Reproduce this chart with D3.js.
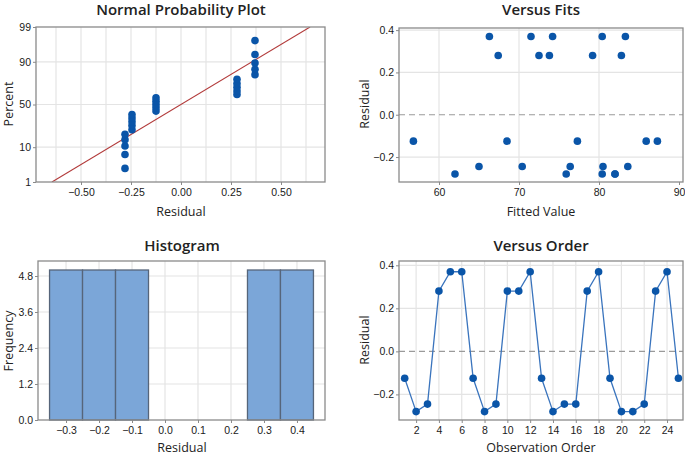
<!DOCTYPE html>
<html>
<head>
<meta charset="utf-8">
<script src="https://cdn.jsdelivr.net/npm/d3@7"></script>
<style>
  html, body { margin: 0; padding: 0; background: #fff; }
  svg { display: block; font-family: "Open Sans", "Noto Sans", sans-serif; }
  .title { font-size: 15px; font-weight: 600; fill: #222; }
  .axlab { font-size: 12.5px; fill: #222; }
  .tick text { font-size: 10.5px; fill: #1a1a1a; }
</style>
</head>
<body>
<svg id="chart" width="685" height="457"></svg>
<script>
// ---------- DATA ----------
const observationOrder = d3.range(1, 26);
const residualsByOrder = [
  -0.125, -0.28, -0.245, 0.28, 0.37, 0.37, -0.125, -0.28, -0.245, 0.28,
  0.28, 0.37, -0.125, -0.28, -0.245, -0.245, 0.28, 0.37, -0.125, -0.28,
  -0.28, -0.245, 0.28, 0.37, -0.125
];
const fittedValues = [
  56.8, 62.0, 65.0, 66.3, 67.4, 68.5, 70.4, 71.5, 72.5, 73.8,
  74.2, 75.9, 76.4, 77.3, 79.2, 80.4, 80.4, 80.5, 82.0, 82.0,
  82.8, 83.3, 83.6, 85.9, 87.3
];
const fittedResiduals = [
  -0.125, -0.28, -0.245, 0.37, 0.28, -0.125, -0.245, 0.37, 0.28, 0.28,
  0.37, -0.28, -0.245, -0.125, 0.28, -0.28, 0.37, -0.245, -0.28, -0.28,
  0.28, 0.37, -0.245, -0.125, -0.125
];
const histBinCenters = [-0.3, -0.2, -0.1, 0.0, 0.1, 0.2, 0.3, 0.4];
const histCounts     = [5, 5, 5, 0, 0, 0, 5, 5];
const nppPercentTicks = [1, 10, 50, 90, 99];
const nppXTicks = [-0.5, -0.25, 0, 0.25, 0.5];
const fitsXTicks = [60, 70, 80, 90];
const residTicks = [-0.2, 0.0, 0.2, 0.4];
const freqTicks = [0, 1.2, 2.4, 3.6, 4.8];
const orderTicks = [2, 4, 6, 8, 10, 12, 14, 16, 18, 20, 22, 24];

// ---------- helpers ----------
function normInv(p) {
  const a = [-3.969683028665376e+01, 2.209460984245205e+02, -2.759285104469687e+02, 1.383577518672690e+02, -3.066479806614716e+01, 2.506628277459239e+00];
  const b = [-5.447609879822406e+01, 1.615858368580409e+02, -1.556989798598866e+02, 6.680131188771972e+01, -1.328068155288572e+01];
  const c = [-7.784894002430293e-03, -3.223964580411365e-01, -2.400758277161838e+00, -2.549732539343734e+00, 4.374664141464968e+00, 2.938163982698783e+00];
  const d = [7.784695709041462e-03, 3.224671290700398e-01, 2.445134137142996e+00, 3.754408661907416e+00];
  const pl = 0.02425, ph = 1 - pl;
  let q, r;
  if (p < pl) { q = Math.sqrt(-2 * Math.log(p));
    return (((((c[0]*q+c[1])*q+c[2])*q+c[3])*q+c[4])*q+c[5]) / ((((d[0]*q+d[1])*q+d[2])*q+d[3])*q+1); }
  if (p <= ph) { q = p - 0.5; r = q*q;
    return (((((a[0]*r+a[1])*r+a[2])*r+a[3])*r+a[4])*r+a[5])*q / (((((b[0]*r+b[1])*r+b[2])*r+b[3])*r+b[4])*r+1); }
  q = Math.sqrt(-2 * Math.log(1 - p));
  return -(((((c[0]*q+c[1])*q+c[2])*q+c[3])*q+c[4])*q+c[5]) / ((((d[0]*q+d[1])*q+d[2])*q+d[3])*q+1);
}

const svg = d3.select("#chart");
const GRID = "#e4e4e4", FRAME = "#8a8a8a", DOT = "#0a55a8";

function frame(g, x0, y0, w, h) {
  g.append("rect").attr("x", x0).attr("y", y0).attr("width", w).attr("height", h)
    .attr("fill", "none").attr("stroke", FRAME).attr("stroke-width", 1.3);
}
function vgrid(g, xs, scale, y0, y1) {
  g.selectAll(null).data(xs).join("line")
    .attr("x1", d => scale(d)).attr("x2", d => scale(d)).attr("y1", y0).attr("y2", y1)
    .attr("stroke", GRID).attr("stroke-width", 1.2);
}
function hgrid(g, ys, scale, x0, x1) {
  g.selectAll(null).data(ys).join("line")
    .attr("y1", d => scale(d)).attr("y2", d => scale(d)).attr("x1", x0).attr("x2", x1)
    .attr("stroke", GRID).attr("stroke-width", 1.2);
}
function xAxis(g, scale, ticks, y, fmt) {
  const ax = g.append("g").attr("transform", `translate(0,${y})`)
    .call(d3.axisBottom(scale).tickValues(ticks).tickFormat(fmt).tickSize(3).tickPadding(4));
  ax.select(".domain").remove();
  ax.selectAll(".tick line").attr("stroke", FRAME);
}
function yAxis(g, scale, ticks, x, fmt) {
  const ax = g.append("g").attr("transform", `translate(${x},0)`)
    .call(d3.axisLeft(scale).tickValues(ticks).tickFormat(fmt).tickSize(3).tickPadding(2));
  ax.select(".domain").remove();
  ax.selectAll(".tick line").attr("stroke", FRAME);
}
function titles(g, cx, ty, title, xl, xly, ylx, yly, yl) {
  g.append("text").attr("class", "title").attr("x", cx).attr("y", ty).attr("text-anchor", "middle").text(title);
  g.append("text").attr("class", "axlab").attr("x", cx).attr("y", xly).attr("text-anchor", "middle").text(xl);
  g.append("text").attr("class", "axlab").attr("transform", `translate(${ylx},${yly}) rotate(-90)`)
    .attr("text-anchor", "middle").text(yl);
}

// ---------- Panel 1: Normal probability plot ----------
{
  const L = 36, R = 325, T = 27, B = 182;
  const g = svg.append("g");
  const x = d3.scaleLinear().domain([-0.725, 0.72]).range([L, R]);
  const y = d3.scaleLinear().domain([normInv(0.01), normInv(0.99)]).range([B, T]);
  vgrid(g, d3.range(-0.625, 0.7, 0.125), x, T, B);
  hgrid(g, [10, 50, 90].map(p => normInv(p / 100)), y, L, R);
  const sorted = residualsByOrder.slice().sort(d3.ascending);
  const n = sorted.length;
  const mean = d3.mean(sorted), sd = d3.deviation(sorted);
  const clipId = "clipnpp";
  g.append("clipPath").attr("id", clipId).append("rect").attr("x", L).attr("y", T).attr("width", R - L).attr("height", B - T);
  const zs = y.domain();
  g.append("line").attr("clip-path", `url(#${clipId})`)
    .attr("x1", x(mean + sd * zs[0])).attr("y1", y(zs[0]))
    .attr("x2", x(mean + sd * zs[1])).attr("y2", y(zs[1]))
    .attr("stroke", "#b23a3a").attr("stroke-width", 1.1);
  g.selectAll(null).data(sorted).join("circle")
    .attr("cx", d => x(d)).attr("cy", (d, i) => y(normInv((i + 1 - 0.3) / (n + 0.4))))
    .attr("r", 3.8).attr("fill", DOT);
  frame(g, L, T, R - L, B - T);
  xAxis(g, x, nppXTicks, B, d3.format(".2f"));
  yAxis(g, y, nppPercentTicks.map(p => normInv(p / 100)), L, (d, i) => nppPercentTicks[i]);
  titles(g, 181, 15, "Normal Probability Plot", "Residual", 216, 13, 104, "Percent");
}

// ---------- Panel 2: Versus fits ----------
{
  const L = 399, R = 683, T = 28, B = 182;
  const g = svg.append("g");
  const x = d3.scaleLinear().domain([55, 90.5]).range([L, R]);
  const y = d3.scaleLinear().domain([-0.318, 0.41]).range([B, T]);
  vgrid(g, [60, 70, 80], x, T, B);
  hgrid(g, [-0.2, 0.2, 0.4], y, L, R);
  g.append("line").attr("x1", L).attr("x2", R).attr("y1", y(0)).attr("y2", y(0))
    .attr("stroke", "#9a9a9a").attr("stroke-width", 1.2).attr("stroke-dasharray", "6,4");
  g.selectAll(null).data(fittedValues).join("circle")
    .attr("cx", d => x(d)).attr("cy", (d, i) => y(fittedResiduals[i]))
    .attr("r", 3.8).attr("fill", DOT);
  frame(g, L, T, R - L, B - T);
  xAxis(g, x, fitsXTicks, B, d3.format("d"));
  yAxis(g, y, residTicks, L, d3.format(".1f"));
  titles(g, 541, 15, "Versus Fits", "Fitted Value", 216, 369, 104, "Residual");
}

// ---------- Panel 3: Histogram ----------
{
  const L = 38, R = 325, T = 261, B = 420;
  const g = svg.append("g");
  const x = d3.scaleLinear().domain([-0.385, 0.485]).range([L, R]);
  const y = d3.scaleLinear().domain([0, 5.3]).range([B, T]);
  vgrid(g, histBinCenters, x, T, B);
  hgrid(g, freqTicks.slice(1), y, L, R);
  g.selectAll(null).data(histBinCenters.filter((c, i) => histCounts[i] > 0)).join("rect")
    .attr("x", d => x(d - 0.05)).attr("width", d => x(d + 0.05) - x(d - 0.05))
    .attr("y", d => y(histCounts[histBinCenters.indexOf(d)]))
    .attr("height", d => B - y(histCounts[histBinCenters.indexOf(d)]))
    .attr("fill", "#7ba6d8").attr("stroke", "#56657a").attr("stroke-width", 1.3);
  frame(g, L, T, R - L, B - T);
  xAxis(g, x, histBinCenters, B, d3.format(".1f"));
  yAxis(g, y, freqTicks, L, d3.format(".1f"));
  titles(g, 182, 251, "Histogram", "Residual", 452, 13, 341, "Frequency");
}

// ---------- Panel 4: Versus order ----------
{
  const L = 399, R = 683, T = 261, B = 420;
  const g = svg.append("g");
  const x = d3.scaleLinear().domain([0.5, 25.4]).range([L, R]);
  const y = d3.scaleLinear().domain([-0.319, 0.42]).range([B, T]);
  vgrid(g, orderTicks, x, T, B);
  hgrid(g, [-0.2, 0.2, 0.4], y, L, R);
  g.append("line").attr("x1", L).attr("x2", R).attr("y1", y(0)).attr("y2", y(0))
    .attr("stroke", "#9a9a9a").attr("stroke-width", 1.2).attr("stroke-dasharray", "6,4");
  const line = d3.line().x((d, i) => x(observationOrder[i])).y(d => y(d));
  g.append("path").datum(residualsByOrder).attr("d", line)
    .attr("fill", "none").attr("stroke", "#3a74bd").attr("stroke-width", 1.3);
  g.selectAll(null).data(residualsByOrder).join("circle")
    .attr("cx", (d, i) => x(observationOrder[i])).attr("cy", d => y(d))
    .attr("r", 3.8).attr("fill", DOT);
  frame(g, L, T, R - L, B - T);
  xAxis(g, x, orderTicks, B, d3.format("d"));
  yAxis(g, y, residTicks, L, d3.format(".1f"));
  titles(g, 541, 251, "Versus Order", "Observation Order", 452, 369, 340, "Residual");
}
</script>
</body>
</html>
